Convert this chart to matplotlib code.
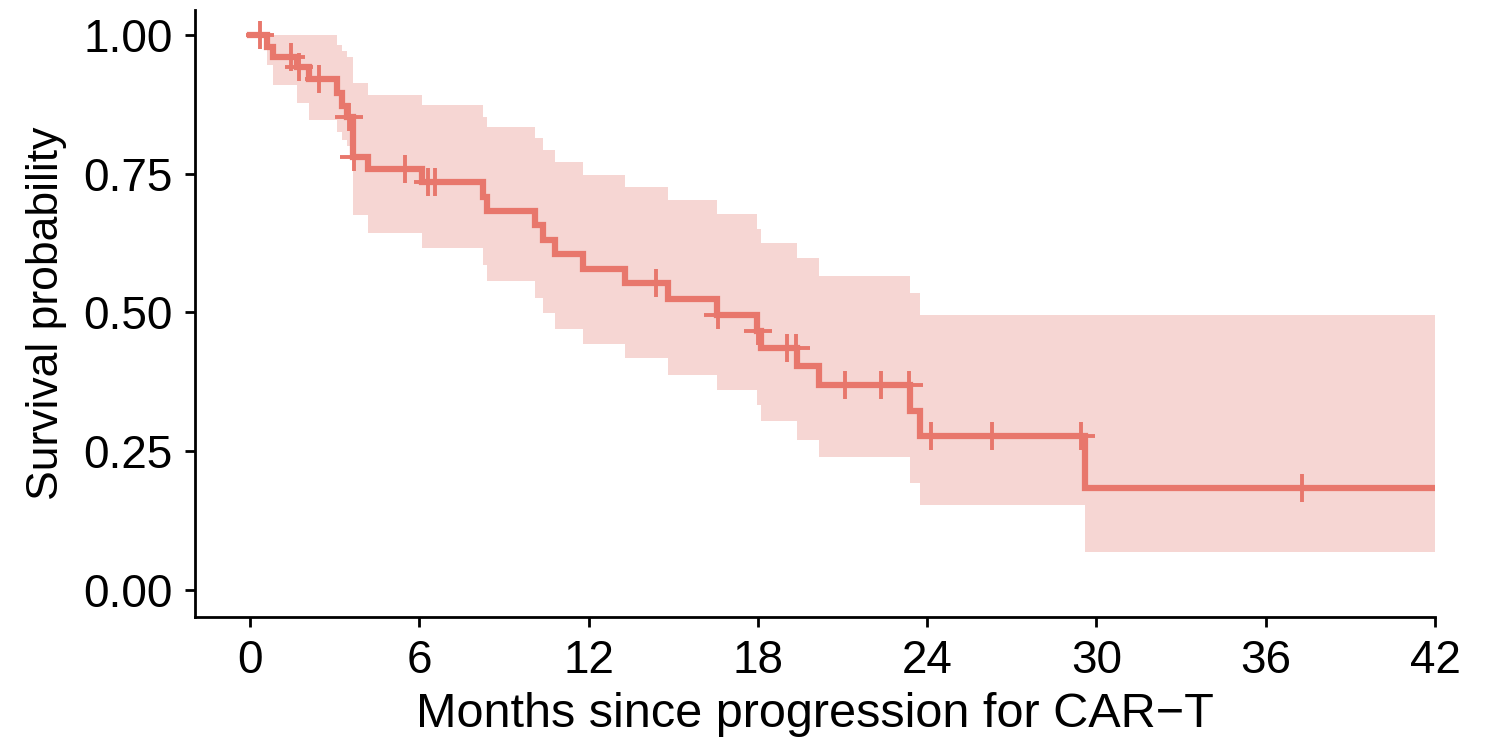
import numpy as np
import matplotlib.pyplot as plt

plt.rcParams['font.family'] = ['Liberation Sans', 'DejaVu Sans']

# Kaplan-Meier steps
times = [0, 0.6, 0.8, 1.65, 2.1, 3.07, 3.25, 3.45, 3.66, 4.2, 6.1, 8.27, 8.39, 10.1, 10.4,
         10.8, 11.8, 13.3, 14.8, 16.55, 17.96, 18.1, 19.4, 20.15, 23.4, 23.75, 29.6]
surv = [1.0, 0.978, 0.961, 0.942, 0.92, 0.896, 0.872, 0.852, 0.78, 0.758, 0.735, 0.708, 0.683,
        0.657, 0.631, 0.605, 0.578, 0.553, 0.524, 0.495, 0.466, 0.436, 0.403, 0.369, 0.323,
        0.277, 0.184]
upper = [1.0, 1.0, 1.0, 1.0, 1.0, 0.982, 0.972, 0.961, 0.913, 0.892, 0.874, 0.853, 0.835,
         0.814, 0.793, 0.772, 0.748, 0.726, 0.703, 0.677, 0.651, 0.625, 0.598, 0.565, 0.535,
         0.495, 0.495]
lower = [1.0, 0.946, 0.91, 0.877, 0.846, 0.826, 0.811, 0.80, 0.675, 0.643, 0.616, 0.586, 0.556,
         0.526, 0.499, 0.471, 0.444, 0.418, 0.387, 0.36, 0.333, 0.305, 0.27, 0.24, 0.193, 0.153,
         0.068]
censored = [0.35, 1.45, 1.75, 2.45, 3.5, 3.7, 5.5, 6.3, 6.55, 14.4, 16.6, 18.0, 19.05, 19.35,
            21.1, 22.37, 23.34, 24.14, 26.3, 29.45, 37.3]
t_end = 42.0

xticks = [0, 6, 12, 18, 24, 30, 36, 42]
yticks = [0.0, 0.25, 0.5, 0.75, 1.0]
ytick_labels = ['0.00', '0.25', '0.50', '0.75', '1.00']

line_col = '#E8776C'
fill_col = '#F6D6D3'

t = np.append(times, t_end)
s = np.append(surv, surv[-1])
up = np.append(upper, upper[-1])
lo = np.append(lower, lower[-1])

fig = plt.figure(figsize=(14.88, 7.42), dpi=100)
ax = fig.add_axes([0.131, 0.1685, 0.8334, 0.818])

ax.fill_between(t, lo, up, step='post', color=fill_col, linewidth=0)
ax.step(t, s, where='post', color=line_col, lw=4.5, solid_joinstyle='miter')

idx = np.searchsorted(times, censored, side='right') - 1
cens_y = np.array(surv)[idx]
ax.plot(censored, cens_y, ls='none', marker='+', ms=20, mew=2.8, color=line_col)

ax.set_xlim(-1.95, 42.0)
ax.set_ylim(-0.0486, 1.045)
ax.set_xticks(xticks)
ax.set_xticklabels([str(x) for x in xticks])
ax.set_yticks(yticks)
ax.set_yticklabels(ytick_labels)

for sp in ['top', 'right']:
    ax.spines[sp].set_visible(False)
for sp in ['left', 'bottom']:
    ax.spines[sp].set_linewidth(2.0)
ax.tick_params(axis='both', labelsize=33, length=7, width=2.0, colors='black')
ax.tick_params(axis='y', pad=9)
ax.tick_params(axis='x', pad=9)

ax.set_xlabel('Months since progression for CAR\u2212T', fontsize=35, labelpad=6)
ax.set_ylabel('Survival probability', fontsize=32, labelpad=12)

fig.savefig('out.png', dpi=100)
